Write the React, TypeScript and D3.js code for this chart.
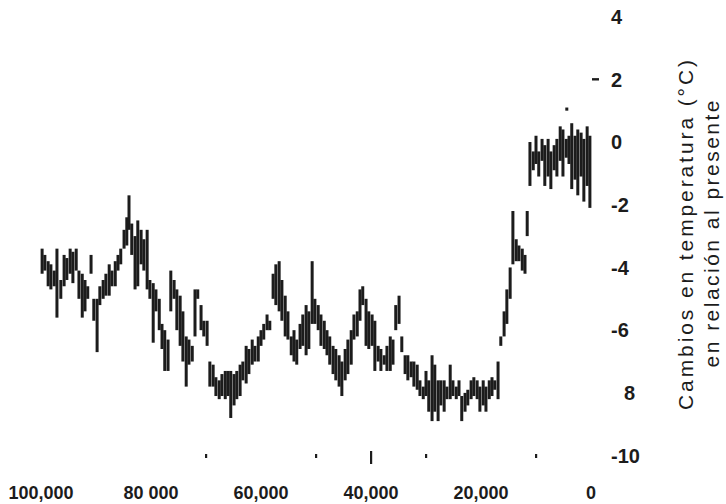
import React from "react";
import * as d3 from "d3";

// Years before present (ka * 1000) with the upper and lower temperature of each sample column (°C)
const years = [
  99800, 99300, 98700, 98200, 97600, 97100, 96400, 95800, 95300, 94700, 94200, 93600, 93100, 92500, 92000, 91500,
  90900, 90400, 89800, 89300, 88700, 88200, 87600, 87100, 86500, 86000, 85500, 84900, 84400, 84000, 83500, 82900,
  82400, 81800, 81300, 80700, 80200, 79600, 79100, 78500, 78000, 77500, 76900, 76400, 75800, 75300, 74700, 74200,
  73600, 73100, 72500, 72000, 71500, 70900, 70400, 69800, 69300, 68700, 68200, 67600, 67100, 66500, 66000, 65500,
  64900, 64400, 63800, 63300, 62700, 62200, 61600, 61100, 60500, 60000, 59500, 58900, 58400, 57800, 57300, 56700,
  56200, 55600, 55100, 54500, 54000, 53500, 52900, 52400, 51800, 51300, 50700, 50200, 49600, 49100, 48500, 48000,
  47500, 46900, 46400, 45800, 45300, 44700, 44200, 43600, 43100, 42500, 42000, 41500, 40900, 40400, 39800, 39300,
  38700, 38200, 37600, 37100, 36500, 36000, 35500, 34900, 34400, 33800, 33300, 32700, 32200, 31600, 31100, 30500,
  30000, 29500, 28900, 28400, 27800, 27300, 26700, 26200, 25600, 25100, 24500, 24000, 23500, 22900, 22400, 21800,
  21300, 20700, 20200, 19600, 19100, 18500, 18000, 17500, 16900, 16400, 15800, 15300, 14700, 14200, 13600, 13100,
  12500, 12000, 11600, 11100, 10500, 10000, 9500, 8900, 8400, 7800, 7300, 6700, 6200, 5600, 5100, 4500,
  4400, 4000, 3500, 2900, 2400, 1800, 1300, 700, 200,
];
const highs = [
  -3.4, -3.6, -3.8, -3.9, -4.1, -3.4, -4.4, -3.6, -3.7, -3.4, -3.5, -3.4, -4.1, -4.2, -4.4, -4.6,
  -3.6, -5.0, -5.0, -4.6, -4.4, -4.2, -3.9, -4.1, -3.8, -3.6, -3.4, -2.8, -2.4, -1.7, -2.6, -3.0,
  -2.5, -2.8, -3.1, -2.8, -4.4, -4.5, -4.7, -5.0, -5.8, -6.0, -6.3, -4.1, -4.4, -4.7, -4.9, -5.4,
  -6.2, -6.3, -6.5, -4.7, -4.7, -5.2, -5.7, -5.7, -7.0, -7.1, -7.5, -7.6, -7.4, -7.3, -7.3, -7.3,
  -7.4, -7.3, -7.1, -7.0, -6.5, -6.6, -6.3, -6.5, -6.2, -6.0, -5.8, -5.5, -5.7, -4.2, -3.9, -3.8,
  -4.4, -4.9, -5.4, -6.2, -6.0, -6.3, -5.8, -5.5, -5.2, -5.4, -3.8, -5.0, -5.2, -5.5, -5.7, -6.0,
  -6.2, -6.5, -6.6, -6.8, -7.0, -6.6, -6.3, -6.0, -5.5, -5.4, -4.7, -4.6, -5.0, -5.4, -5.5, -5.7,
  -6.5, -6.6, -6.8, -6.5, -6.2, -6.3, -5.2, -4.9, -6.2, -6.8, -6.8, -7.0, -7.0, -7.1, -7.6, -7.8,
  -7.3, -7.6, -6.8, -7.1, -7.6, -7.6, -7.6, -7.8, -7.1, -7.6, -7.8, -7.6, -8.1, -8.0, -7.9, -7.6,
  -7.5, -7.6, -7.8, -7.6, -7.8, -7.6, -7.5, -7.6, -7.0, -6.2, -5.4, -4.7, -4.0, -2.2, -3.1, -3.3,
  -3.4, -3.6, -2.2, 0.0, -0.3, 0.2, -0.3, 0.1, -0.1, 0.1, -0.3, -0.1, 0.1, 0.5, 0.4, 0.1,
  1.1, 0.2, 0.6, 0.2, 0.4, 0.3, 0.1, 0.5, 0.2,
];
const lows = [
  -4.2, -4.1, -4.6, -4.7, -4.6, -5.6, -5.0, -4.6, -4.4, -4.2, -4.5, -4.1, -5.0, -5.6, -5.4, -5.0,
  -4.2, -5.7, -6.7, -5.2, -5.0, -4.9, -4.9, -4.6, -4.6, -4.1, -3.9, -3.4, -3.3, -2.8, -3.6, -4.7,
  -4.6, -3.9, -4.1, -4.7, -5.0, -6.4, -5.4, -6.0, -6.6, -7.3, -7.3, -5.4, -5.0, -6.0, -6.5, -7.0,
  -7.8, -7.1, -7.0, -6.2, -5.0, -6.0, -6.2, -6.5, -7.8, -7.8, -8.1, -8.2, -8.1, -8.2, -8.1, -8.8,
  -8.4, -8.2, -8.1, -7.6, -7.7, -7.4, -7.1, -7.0, -7.0, -6.5, -6.3, -6.0, -6.0, -5.0, -5.2, -5.4,
  -5.7, -6.2, -6.3, -6.8, -7.0, -7.1, -6.6, -6.5, -6.8, -6.6, -5.8, -5.8, -6.0, -6.5, -6.6, -6.8,
  -7.1, -7.4, -7.6, -7.8, -8.1, -7.6, -7.4, -7.1, -6.3, -6.2, -5.7, -5.2, -6.5, -6.6, -6.5, -7.3,
  -7.0, -7.3, -7.1, -7.3, -7.3, -7.1, -6.0, -5.8, -6.7, -7.4, -7.6, -7.5, -7.8, -7.9, -8.1, -8.2,
  -8.1, -8.6, -8.9, -8.6, -8.9, -8.4, -8.6, -8.2, -8.2, -8.1, -8.2, -8.1, -8.9, -8.6, -8.4, -8.2,
  -8.1, -8.2, -8.6, -8.4, -8.6, -8.2, -8.1, -7.9, -8.2, -6.5, -6.2, -5.8, -5.0, -3.9, -3.8, -3.8,
  -4.1, -4.2, -3.0, -1.4, -0.9, -0.7, -1.1, -0.6, -1.4, -1.1, -1.5, -0.9, -1.1, -0.6, -1.1, -0.5,
  1.0, -0.7, -1.5, -1.2, -1.7, -1.1, -1.9, -1.4, -2.1,
];

const xTickYears = [100000, 80000, 60000, 40000, 20000, 0];
const xTickLabels = ["100,000", "80 000", "60,000", "40,000", "20,000", "0"];
const xMinorTicks = [70000, 50000, 40000, 30000, 10000];
const yTickValues = [4, 2, 0, -2, -4, -6, -8, -10];
const yTickLabels = ["4", "2", "0", "-2", "-4", "-6", "8", "-10"];
const titleLines = ["Cambios en temperatura (°C)", "en relación al presente"];

export default function App() {
  const W = 726;
  const H = 504;
  const x = d3.scaleLinear().domain([100000, 0]).range([41, 591]);
  const y = d3.scaleLinear().domain([4, -10]).range([16.6, 455.6]);
  const ink = "#1c1c1c";
  const font = "'Liberation Sans', Arial, Helvetica, sans-serif";

  return (
    <svg
      width={W}
      height={H}
      viewBox={`0 0 ${W} ${H}`}
      style={{ position: "absolute", left: 0, top: 0, background: "#fff" }}
    >
      <rect x={0} y={0} width={W} height={H} fill="#fff" />
      {/* data columns */}
      <g>
        {years.map((yr, i) => {
          const top = y(highs[i]);
          const bot = y(lows[i]);
          return (
            <rect
              key={i}
              x={x(yr) - 1.5}
              y={top}
              width={3}
              height={Math.max(2, bot - top)}
              fill={ink}
            />
          );
        })}
      </g>

      {/* x minor ticks */}
      <g>
        {xMinorTicks.map((t) => (
          <rect
            key={t}
            x={x(t) - 1}
            y={t === 40000 ? 451 : 454}
            width={2.2}
            height={t === 40000 ? 13 : 4}
            fill={ink}
          />
        ))}
      </g>

      {/* x labels */}
      <g fontFamily={font} fontWeight="bold" fontSize={18} fill={ink} textAnchor="middle">
        {xTickYears.map((t, i) => (
          <text key={t} x={x(t)} y={499}>
            {xTickLabels[i]}
          </text>
        ))}
      </g>

      {/* y labels */}
      <g fontFamily={font} fontWeight="bold" fontSize={20} fill={ink}>
        {yTickValues.map((v, i) => (
          <text key={v} x={yTickLabels[i] === "8" ? 624 : 611} y={y(v)} dy="0.36em">
            {yTickLabels[i]}
          </text>
        ))}
      </g>
      <line x1={592} x2={599} y1={y(2)} y2={y(2)} stroke={ink} strokeWidth={2.4} />

      {/* y title */}
      <g fontFamily={font} fontSize={21} fill={ink} textAnchor="middle">
        <text transform={`translate(693, 235) rotate(-90)`} textLength={350} lengthAdjust="spacing">
          {titleLines[0]}
        </text>
        <text transform={`translate(719, 234) rotate(-90)`} textLength={267} lengthAdjust="spacing">
          {titleLines[1]}
        </text>
      </g>
    </svg>
  );
}
